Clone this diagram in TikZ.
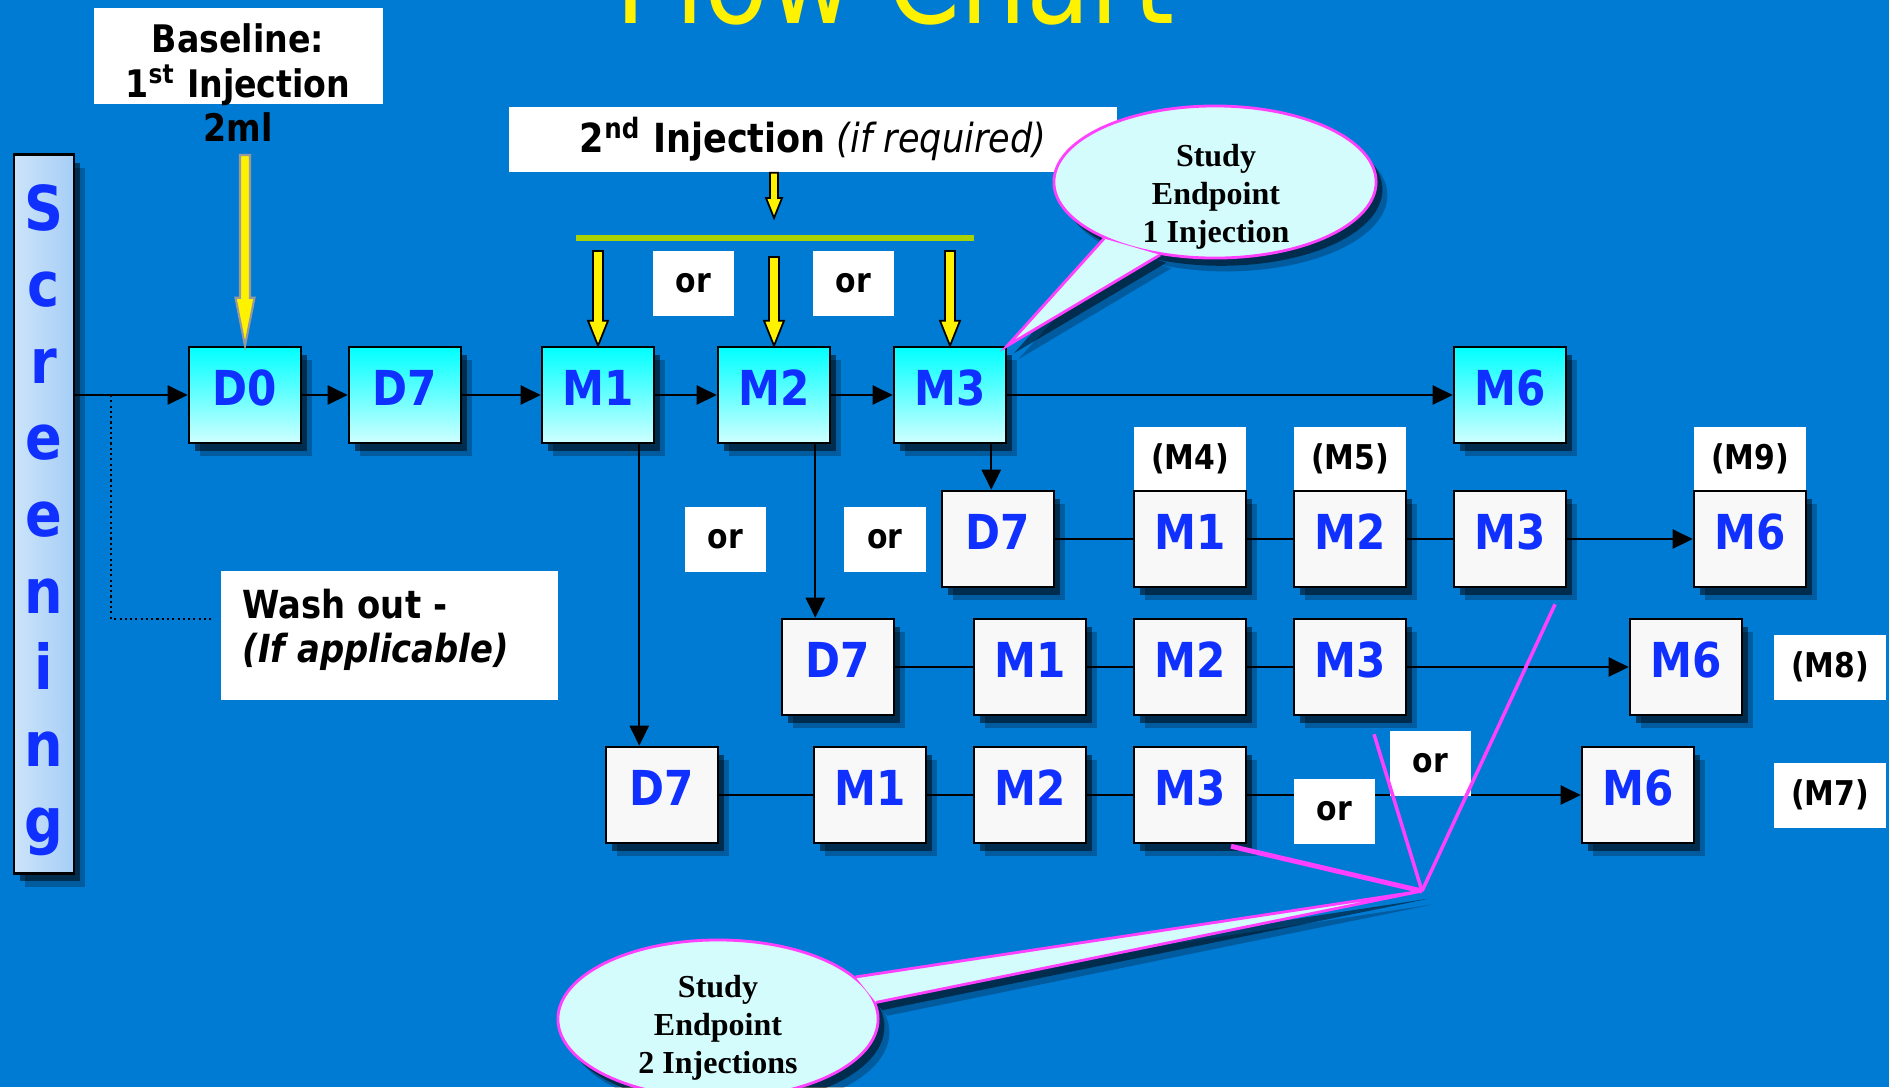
\documentclass[tikz,border=0pt]{standalone}
\usepackage{fontspec}
\setmainfont[FakeStretch=0.875]{DejaVu Sans}
\newfontfamily\bubfont{Liberation Serif}
\usetikzlibrary{shadows,calc,arrows.meta,shapes.geometric}
\pgfdeclarelayer{back}
\pgfsetlayers{back,main}
\definecolor{bg}{RGB}{0,123,212}
\definecolor{lblue}{RGB}{16,48,255}
\definecolor{boxwhite}{RGB}{248,248,248}
\definecolor{cyantop}{RGB}{0,255,255}
\definecolor{cyanbot}{RGB}{208,255,255}
\definecolor{bubfill}{RGB}{212,252,252}
\definecolor{mag}{RGB}{255,64,255}
\definecolor{barg}{RGB}{170,210,0}
\definecolor{scrL}{RGB}{204,228,250}
\definecolor{scrR}{RGB}{166,206,246}
\newcommand\yarrow[6]{%
  \filldraw[#1] ($(#3|-#2)+(-#4,0)$) -- ($(#3)+(-#4,-#6)$) -- ($(#3)+(-#5,-#6)$) -- (#3) -- ($(#3)+(#5,-#6)$) -- ($(#3)+(#4,-#6)$) -- ($(#3|-#2)+(#4,0)$) -- cycle;}
\begin{document}
\begin{tikzpicture}[x=0.01cm, y=-0.01cm,
  shad/.style={drop shadow={shadow xshift=1.8pt,shadow yshift=-2.2pt,fill=black,opacity=.5},
               drop shadow={shadow xshift=3.2pt,shadow yshift=-3.8pt,fill=black,opacity=.25}},
  box/.style={draw=black, line width=0.7pt, minimum width=1.12cm, minimum height=0.96cm, inner sep=0pt,
              text height=0.35cm, text depth=0.15cm, font=\fontsize{13.7}{16}\selectfont\bfseries, text=lblue, shad},
  topbox/.style={box, top color=cyantop, bottom color=cyanbot},
  lowbox/.style={box, fill=boxwhite},
  wbox/.style={fill=white, inner sep=0pt, font=\fontsize{9.7}{12}\selectfont\bfseries},
  orbox/.style={wbox, minimum width=0.81cm, minimum height=0.65cm},
  mbox/.style={wbox, minimum width=1.12cm, minimum height=0.64cm},
  conn/.style={line width=0.65pt},
  arr/.style={conn, -{Triangle[length=5.7pt,width=5.4pt]}},
  yarr/.style={fill=yellow, draw=black, line width=0.5pt},
  bubble/.style={ellipse, fill=bubfill, draw=mag, line width=0.8pt, inner sep=0pt, shad},
  bubtext/.style={font=\bubfont\bfseries\fontsize{9.1}{10.8}\selectfont, align=center},
  scrl/.style={font=\fontsize{17.6}{20}\selectfont\bfseries, text=lblue, inner sep=0pt, anchor=base},
  tshad/.style={fill=black, opacity=#1}
]
\useasboundingbox (0,0) rectangle (1889,1087);
\begin{pgfonlayer}{back}
\fill[bg] (0,0) rectangle (1889,1087);
\end{pgfonlayer}
\clip (0,0) rectangle (1889,1087);

% title
\node[font=\fontsize{34}{40}\selectfont, text=yellow, anchor=base, inner sep=0pt] (title) at (895,23) {Flow Chart};

% baseline label
\node[wbox, minimum width=2.89cm, minimum height=0.96cm] (basebox) at (238.5,56) {};
\node[font=\fontsize{10.8}{12.66}\selectfont\bfseries, align=center, inner sep=0pt] (baset) at (238,83) {Baseline:\\1\textsuperscript{st} Injection\\2ml};

% second injection label
\node[wbox, minimum width=6.08cm, minimum height=0.65cm, font=\fontsize{11.4}{14}\selectfont] (inj2) at (813,139.5) {\textbf{2\textsuperscript{nd} Injection} \textit{(if required)}};

% screening bar
\node[draw=black, line width=0.8pt, left color=scrL, right color=scrR, minimum width=0.6cm, minimum height=7.18cm, inner sep=0pt, shad] (scr) at (44,514) {};
\foreach \ch [count=\i] in {S,c,r,e,e,n,i,n,g}
  \node[scrl] (scr\i) at (44,{230+76.6*(\i-1)}) {\ch};

% row 1
\node[topbox] (D0)  at (245,395)  {D0};
\node[topbox] (D7a) at (405,395)  {D7};
\node[topbox] (M1a) at (598,395)  {M1};
\node[topbox] (M2a) at (774,395)  {M2};
\node[topbox] (M3a) at (950,395)  {M3};
\node[topbox] (M6a) at (1510,395) {M6};

% label boxes above row 2
\node[mbox] (M4l) at (1190,459) {(M4)};
\node[mbox] (M5l) at (1350,459) {(M5)};
\node[mbox] (M9l) at (1750,459) {(M9)};
\node[mbox, minimum height=0.65cm] (M8l) at (1830,667) {(M8)};
\node[mbox, minimum height=0.65cm] (M7l) at (1830,795) {(M7)};

% row 2
\node[lowbox] (D7b) at (998,539)  {D7};
\node[lowbox] (M1b) at (1190,539) {M1};
\node[lowbox] (M2b) at (1350,539) {M2};
\node[lowbox] (M3b) at (1510,539) {M3};
\node[lowbox] (M6b) at (1750,539) {M6};
% row 3
\node[lowbox] (D7c) at (838,667)  {D7};
\node[lowbox] (M1c) at (1030,667) {M1};
\node[lowbox] (M2c) at (1190,667) {M2};
\node[lowbox] (M3c) at (1350,667) {M3};
\node[lowbox] (M6c) at (1686,667) {M6};
% row 4
\node[lowbox] (D7d) at (662,795)  {D7};
\node[lowbox] (M1d) at (870,795)  {M1};
\node[lowbox] (M2d) at (1030,795) {M2};
\node[lowbox] (M3d) at (1190,795) {M3};
\node[lowbox] (M6d) at (1638,795) {M6};

% connectors row 1
\draw[arr] (D0.west -| scr.east) -- (D0.west);
\draw[arr] (D0) -- (D7a);
\draw[arr] (D7a) -- (M1a);
\draw[arr] (M1a) -- (M2a);
\draw[arr] (M2a) -- (M3a);
\draw[arr] (M3a) -- (M6a);
% branches down
\coordinate (m1out) at ($(M1a.south east)+(-16,0)$);
\coordinate (m2out) at ($(M2a.south east)+(-16,0)$);
\coordinate (m3out) at ($(M3a.south east)+(-16,0)$);
\draw[arr] (m1out) -- (m1out |- D7d.north);
\draw[arr] (m2out) -- (m2out |- D7c.north);
\draw[arr] (m3out) -- (m3out |- D7b.north);
% row 2
\draw[conn] (D7b) -- (M1b);
\draw[conn] (M1b) -- (M2b);
\draw[conn] (M2b) -- (M3b);
\draw[arr] (M3b) -- (M6b);
% row 3
\draw[conn] (D7c) -- (M1c);
\draw[conn] (M1c) -- (M2c);
\draw[conn] (M2c) -- (M3c);
\draw[arr] (M3c) -- (M6c);
% row 4
\draw[conn] (D7d) -- (M1d);
\draw[conn] (M1d) -- (M2d);
\draw[conn] (M2d) -- (M3d);
\draw[arr] (M3d) -- (M6d);

% or boxes
\node[orbox] (orT1) at (693.5,283.5) {or};
\node[orbox] (orT2) at (853.5,283.5) {or};
\node[orbox] (or2a) at (725.5,539.5) {or};
\node[orbox] (or2b) at (885,539.5) {or};
\node[orbox] (or4a) at (1334.5,811.5) {or};
\node[orbox] (or4b) at (1430.5,763.5) {or};

% wash out
\node[wbox, minimum width=3.37cm, minimum height=1.29cm] (wash) at (389.5,635.5) {};
\node[font=\fontsize{11}{12.5}\selectfont\bfseries, align=left, anchor=west, inner sep=0pt] (washt) at (242,629.5) {Wash out -\\\textit{(If applicable)}};
\coordinate (wsplit) at ($(D0.west -| scr.east)+(36,0)$);
\coordinate (wend) at ($(wash.west)+(-9,-16.5)$);
\draw[line width=0.6pt, dash pattern=on 0.6pt off 0.9pt] (wsplit) |- (wend);

% green bar and yellow arrows
\coordinate (gL) at (576,238);
\coordinate (gR) at (974,238);
\draw[barg, line width=1.7pt] (gL) -- (gR);
\coordinate (bs) at (247,155);
\yarrow{fill=yellow, draw=gray!80, line width=0.6pt}{bs}{D0.north}{5}{9.5}{48}
\coordinate (i2e) at (774,218);
\yarrow{yarr}{inj2.south}{i2e}{4}{8}{20}
\coordinate (ya1) at (599,251);
\coordinate (ya2) at (775,257);
\coordinate (ya3) at (952,251);
\yarrow{yarr}{ya1}{M1a.north}{5}{10}{25}
\yarrow{yarr}{ya2}{M2a.north}{5}{10}{25}
\yarrow{yarr}{ya3}{M3a.north}{5}{10}{25}

% bubble 1
\node[bubble, minimum width=3.22cm, minimum height=1.52cm] (bub1) at (1215,182) {};
\begin{pgfonlayer}{back}
\fill[tshad=.5, transform canvas={shift={(1.8pt,-2.2pt)}}] (bub1.207) -- (M3a.north east) -- (bub1.233) -- cycle;
\fill[tshad=.25, transform canvas={shift={(3.2pt,-3.8pt)}}] (bub1.207) -- (M3a.north east) -- (bub1.233) -- cycle;
\end{pgfonlayer}
\filldraw[fill=bubfill, draw=mag, line width=0.8pt] (bub1.207) -- (M3a.north east) -- (bub1.233);
\node[bubtext] (bub1t) at (1216,197) {Study\\Endpoint\\1 Injection};

% bubble 2
\coordinate (mp) at (1422,891);
\node[bubble, minimum width=3.2cm, minimum height=1.58cm] (bub2) at (718,1019) {};
\begin{pgfonlayer}{back}
\fill[tshad=.5, transform canvas={shift={(1.8pt,-2.2pt)}}] (bub2.17) -- (mp) -- (bub2.6) -- cycle;
\fill[tshad=.25, transform canvas={shift={(3.2pt,-3.8pt)}}] (bub2.17) -- (mp) -- (bub2.6) -- cycle;
\end{pgfonlayer}
\filldraw[fill=bubfill, draw=mag, line width=0.8pt] (bub2.17) -- (mp) -- (bub2.6);
\node[bubtext] (bub2t) at (718,1028) {Study\\Endpoint\\2 Injections};

% magenta pointers
\coordinate (mg1) at ($(M3c.south)+(24,18)$);
\coordinate (mg2) at ($(M3b.south)+(45,16)$);
\coordinate (mg3) at ($(M3d.south)+(41,2)$);
\draw[mag, line width=1pt] (mg1) -- (mp);
\draw[mag, line width=1pt] (mg2) -- (mp);
\draw[mag, line width=1.4pt] (mg3) -- (mp);
\end{tikzpicture}
\end{document}
